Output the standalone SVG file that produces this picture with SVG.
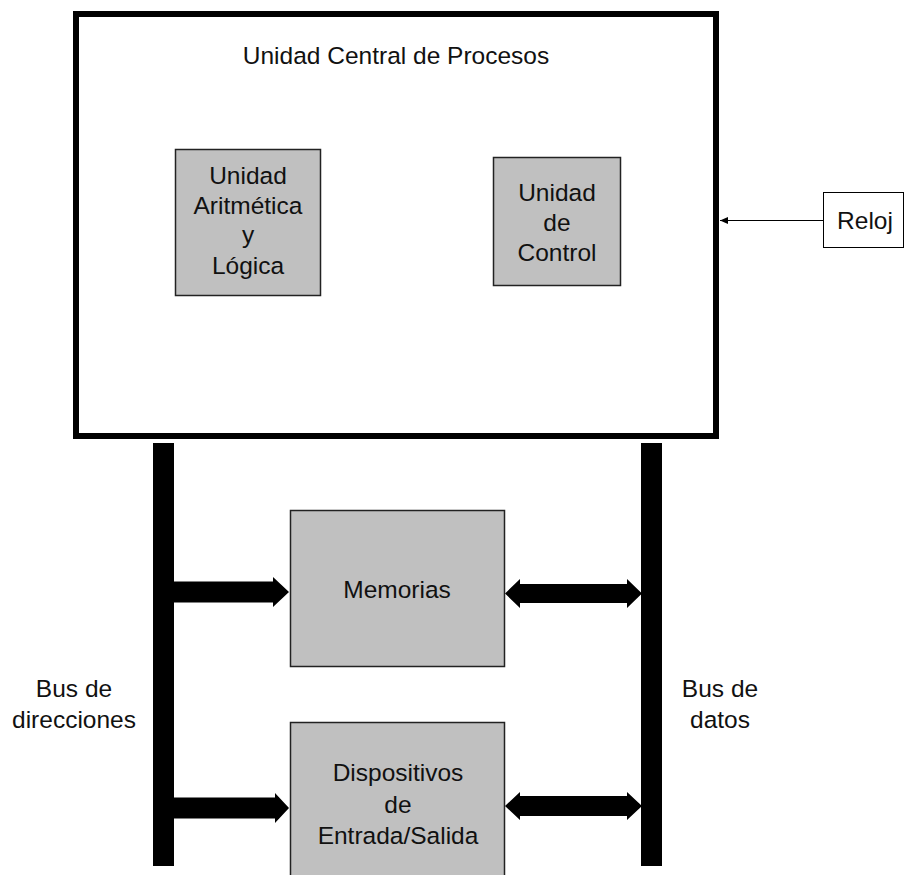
<svg xmlns="http://www.w3.org/2000/svg" width="905" height="875" viewBox="0 0 905 875">
<style>
text{font-family:"Liberation Sans",Arial,sans-serif;font-size:24.5px;fill:#111;text-anchor:middle}
.unit{fill:#c0c0c0;stroke:#222;stroke-width:1.5}
.bus{fill:#000}
</style>
<defs>
<marker id="ah" markerWidth="9" markerHeight="8" refX="8" refY="4" orient="auto" markerUnits="userSpaceOnUse">
<path d="M8,4 L0,0.5 L0,7.5 Z" fill="#000"/>
</marker>
</defs>
<rect width="905" height="875" fill="#fff"/>
<g id="cpu">
<rect x="76" y="14" width="640" height="422" fill="#fff" stroke="#000" stroke-width="6"/>
<text x="396" y="64">Unidad Central de Procesos</text>
</g>
<g id="alu">
<rect class="unit" x="175.5" y="149.5" width="145" height="146"/>
<text x="248" y="184">Unidad</text>
<text x="248" y="214">Aritmética</text>
<text x="248" y="243">y</text>
<text x="248" y="274">Lógica</text>
</g>
<g id="uc">
<rect class="unit" x="493.5" y="157.5" width="127" height="128"/>
<text x="557" y="201">Unidad</text>
<text x="557" y="231">de</text>
<text x="557" y="261">Control</text>
</g>
<g id="reloj">
<rect x="823.5" y="192.5" width="80" height="55" fill="#fff" stroke="#000" stroke-width="1"/>
<text x="865" y="229">Reloj</text>
</g>
<g id="memorias">
<rect class="unit" x="290.5" y="510.5" width="214" height="156"/>
<text x="397" y="598">Memorias</text>
</g>
<g id="dispositivos">
<rect class="unit" x="290.5" y="722.5" width="214" height="165"/>
<text x="398" y="781">Dispositivos</text>
<text x="398" y="813">de</text>
<text x="398" y="844">Entrada/Salida</text>
</g>
<g id="bus-direcciones">
<rect class="bus" x="153" y="443" width="21" height="423"/>
<text x="74" y="697">Bus de</text>
<text x="74" y="728">direcciones</text>
</g>
<g id="bus-datos">
<rect class="bus" x="641" y="443" width="21" height="423"/>
<text x="720" y="697">Bus de</text>
<text x="720" y="728">datos</text>
</g>
<g id="connectors">
<line x1="823" y1="220.5" x2="720" y2="220.5" stroke="#000" stroke-width="1" marker-end="url(#ah)"/>
<polygon class="bus" points="170,581.5 273,581.5 273,577 289,592 273,607 273,602.5 170,602.5"/>
<polygon class="bus" points="170,797.5 275,797.5 275,793 289,808 275,823 275,818.5 170,818.5"/>
<polygon class="bus" points="505,593.5 520,579 520,584 627,584 627,579 642,593.5 627,608 627,603 520,603 520,608"/>
<polygon class="bus" points="505,806 520,792 520,796 627,796 627,792 642,806 627,820 627,816 520,816 520,820"/>
</g>
</svg>
